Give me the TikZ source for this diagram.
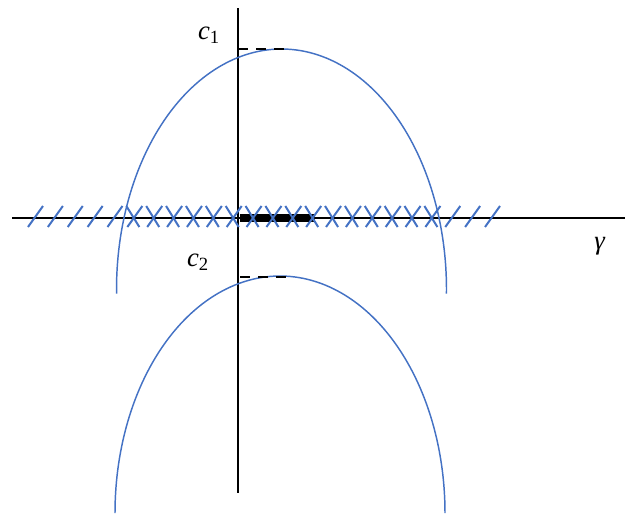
\documentclass[tikz,border=0pt]{standalone}
\usepackage{fontspec}
\setmainfont{Liberation Serif}
\usepackage{tikz}

\definecolor{curveblue}{RGB}{68,114,196}

\begin{document}
\begin{tikzpicture}[x=0.75pt,y=-0.75pt,font=\fontsize{20}{23}\selectfont]
\useasboundingbox (0,0) rectangle (632,514);
% axes
\draw[black,line width=1.5pt] (12,217.5) -- (625,217.5);
\draw[black,line width=1.5pt] (238,8) -- (238,493);
\draw[black,line width=6pt] (240,218) -- (315,218);
% hatching on the axis
\foreach \i in {0,...,23}
  \draw[curveblue,line width=1.5pt] ({28+19.87*\i},227) -- ({43+19.87*\i},206);
\foreach \i in {5,...,20}
  \draw[curveblue,line width=1.5pt] ({27+19.87*\i},206) -- ({40+19.87*\i},227);
% the two arcs
\draw[curveblue,line width=1.1pt,domain=-1:181,samples=120]
  plot ({281.5+165*cos(\x)},{289.5-240.5*sin(\x)});
\draw[curveblue,line width=1.1pt,domain=0:180,samples=120]
  plot ({280+165*cos(\x)},{513-237*sin(\x)});
% levels
\draw[black,line width=1.5pt,dash pattern=on 7.5pt off 6pt] (238,49) -- (287,49);
\draw[black,line width=1.5pt,dash pattern=on 7.5pt off 6pt] (240,277) -- (290,277);
\node (c1) at (209,35) {\textit{c}\textsubscript{1}};
\node (c2) at (198,262) {\textit{c}\textsubscript{2}};
\node (gamma) at (600,246) {\textit{γ}};
\end{tikzpicture}
\end{document}
